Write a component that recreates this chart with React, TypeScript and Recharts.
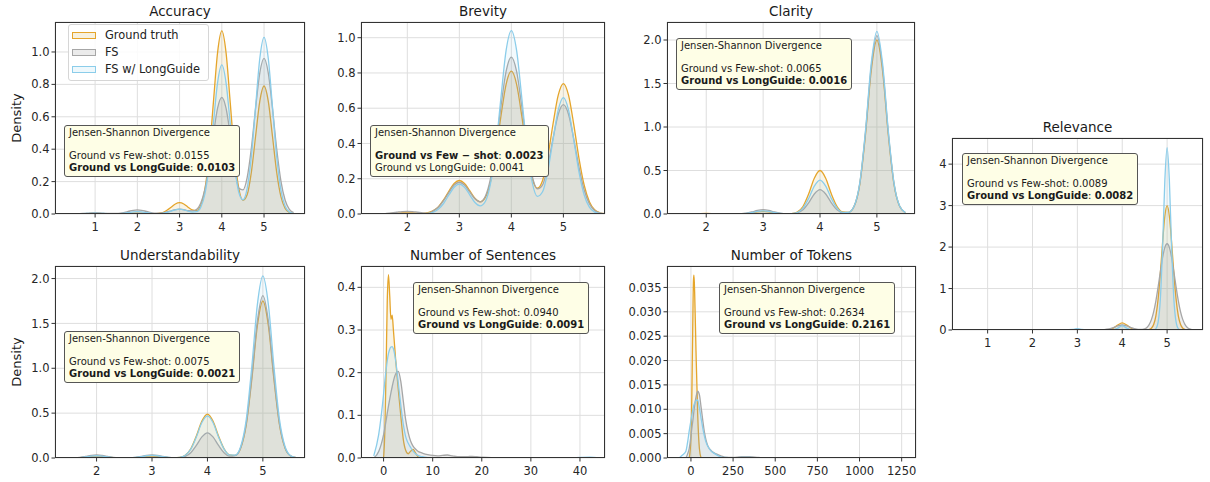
import React from "react";
import { AreaChart, Area, XAxis, YAxis, CartesianGrid } from "recharts";

// Accuracy
const ACC_X = [0.4, 0.5, 0.6, 0.7, 0.8, 0.9, 1.0, 1.1, 1.2, 1.3, 1.4, 1.5, 1.6, 1.7, 1.8, 1.9, 2.0, 2.1, 2.2, 2.3, 2.4, 2.5, 2.6, 2.7, 2.8, 2.9, 3.0, 3.1, 3.2, 3.3, 3.4, 3.5, 3.6, 3.7, 3.8, 3.9, 4.0, 4.1, 4.2, 4.3, 4.4, 4.5, 4.6, 4.7, 4.8, 4.9, 5.0, 5.1, 5.2, 5.3, 5.4, 5.5, 5.6, 5.7];
const ACC_GT = [0, 0, 0, 0.001, 0.002, 0.003, 0.003, 0.003, 0.002, 0.001, 0.001, 0.001, 0.002, 0.003, 0.004, 0.005, 0.005, 0.005, 0.004, 0.003, 0.002, 0.004, 0.009, 0.023, 0.042, 0.062, 0.07, 0.062, 0.042, 0.025, 0.021, 0.053, 0.153, 0.367, 0.686, 0.997, 1.13, 0.997, 0.686, 0.367, 0.162, 0.085, 0.119, 0.259, 0.48, 0.697, 0.79, 0.697, 0.48, 0.257, 0.107, 0.035, 0.009, 0.002];
const ACC_FS = [0, 0.001, 0.002, 0.003, 0.005, 0.007, 0.008, 0.007, 0.005, 0.003, 0.003, 0.003, 0.005, 0.01, 0.017, 0.023, 0.025, 0.023, 0.017, 0.01, 0.006, 0.005, 0.007, 0.013, 0.02, 0.027, 0.03, 0.027, 0.02, 0.019, 0.028, 0.067, 0.153, 0.301, 0.488, 0.653, 0.72, 0.653, 0.488, 0.303, 0.161, 0.149, 0.225, 0.407, 0.652, 0.871, 0.96, 0.871, 0.651, 0.401, 0.203, 0.085, 0.029, 0.008];
const ACC_LG = [0, 0, 0.001, 0.002, 0.003, 0.004, 0.005, 0.004, 0.003, 0.002, 0.001, 0.001, 0.002, 0.005, 0.009, 0.013, 0.015, 0.013, 0.009, 0.005, 0.002, 0.002, 0.004, 0.01, 0.018, 0.026, 0.03, 0.026, 0.018, 0.012, 0.014, 0.041, 0.124, 0.299, 0.558, 0.811, 0.92, 0.811, 0.558, 0.301, 0.136, 0.088, 0.157, 0.356, 0.662, 0.961, 1.09, 0.961, 0.662, 0.354, 0.147, 0.048, 0.012, 0.002];

// Brevity
const BRE_X = [1.3, 1.4, 1.5, 1.6, 1.7, 1.8, 1.9, 2.0, 2.1, 2.2, 2.3, 2.4, 2.5, 2.6, 2.7, 2.8, 2.9, 3.0, 3.1, 3.2, 3.3, 3.4, 3.5, 3.6, 3.7, 3.8, 3.9, 4.0, 4.1, 4.2, 4.3, 4.4, 4.5, 4.6, 4.7, 4.8, 4.9, 5.0, 5.1, 5.2, 5.3, 5.4, 5.5, 5.6, 5.7, 5.8];
const BRE_GT = [0, 0, 0.001, 0.001, 0.003, 0.004, 0.006, 0.006, 0.006, 0.005, 0.004, 0.008, 0.019, 0.042, 0.081, 0.13, 0.173, 0.19, 0.173, 0.132, 0.089, 0.069, 0.094, 0.184, 0.348, 0.555, 0.737, 0.81, 0.737, 0.557, 0.353, 0.202, 0.146, 0.19, 0.324, 0.509, 0.673, 0.74, 0.673, 0.507, 0.316, 0.163, 0.07, 0.024, 0.007, 0.002];
const BRE_FS = [0, 0.001, 0.001, 0.003, 0.006, 0.01, 0.014, 0.015, 0.014, 0.01, 0.006, 0.004, 0.018, 0.04, 0.077, 0.123, 0.164, 0.18, 0.164, 0.125, 0.086, 0.069, 0.101, 0.202, 0.382, 0.61, 0.81, 0.89, 0.81, 0.611, 0.386, 0.216, 0.142, 0.165, 0.274, 0.427, 0.564, 0.62, 0.564, 0.425, 0.265, 0.136, 0.058, 0.02, 0.006, 0.002];
const BRE_LG = [0, 0, 0, 0, 0, 0, 0, 0, 0, 0, 0.001, 0.003, 0.01, 0.028, 0.061, 0.108, 0.152, 0.17, 0.152, 0.109, 0.065, 0.046, 0.071, 0.173, 0.374, 0.66, 0.929, 1.04, 0.929, 0.661, 0.377, 0.181, 0.1, 0.126, 0.242, 0.419, 0.589, 0.66, 0.589, 0.419, 0.238, 0.108, 0.039, 0.011, 0.003, 0.001];

// Clarity
const CLA_X = [1.5, 1.6, 1.7, 1.8, 1.9, 2.0, 2.1, 2.2, 2.3, 2.4, 2.5, 2.6, 2.7, 2.8, 2.9, 3.0, 3.1, 3.2, 3.3, 3.4, 3.5, 3.6, 3.7, 3.8, 3.9, 4.0, 4.1, 4.2, 4.3, 4.4, 4.5, 4.6, 4.7, 4.8, 4.9, 5.0, 5.1, 5.2, 5.3, 5.4, 5.5];
const CLA_GT = [0, 0, 0.001, 0.003, 0.005, 0.006, 0.005, 0.003, 0.001, 0, 0, 0.001, 0.005, 0.014, 0.025, 0.03, 0.025, 0.014, 0.005, 0.002, 0.004, 0.022, 0.086, 0.229, 0.412, 0.5, 0.412, 0.229, 0.086, 0.024, 0.019, 0.089, 0.344, 0.916, 1.646, 2.0, 1.646, 0.916, 0.344, 0.088, 0.015];
const CLA_FS = [0, 0, 0.001, 0.002, 0.003, 0.004, 0.003, 0.002, 0.001, 0, 0, 0.002, 0.009, 0.023, 0.041, 0.05, 0.041, 0.023, 0.009, 0.003, 0.003, 0.012, 0.048, 0.128, 0.23, 0.28, 0.23, 0.128, 0.048, 0.014, 0.018, 0.09, 0.353, 0.939, 1.687, 2.05, 1.687, 0.939, 0.353, 0.09, 0.016];
const CLA_LG = [0, 0, 0.001, 0.002, 0.003, 0.004, 0.003, 0.002, 0.001, 0, 0, 0.002, 0.006, 0.016, 0.029, 0.035, 0.029, 0.016, 0.006, 0.002, 0.003, 0.017, 0.067, 0.179, 0.321, 0.39, 0.321, 0.179, 0.067, 0.019, 0.019, 0.092, 0.361, 0.962, 1.728, 2.1, 1.728, 0.962, 0.361, 0.092, 0.016];

// Relevance
const REL_X = [0.5, 0.7, 0.9, 1.0, 1.1, 1.3, 1.5, 1.7, 1.9, 2.0, 2.1, 2.3, 2.5, 2.7, 2.9, 3.0, 3.1, 3.3, 3.5, 3.6, 3.7, 3.8, 3.9, 4.0, 4.1, 4.2, 4.3, 4.4, 4.5, 4.55, 4.6, 4.65, 4.7, 4.75, 4.8, 4.85, 4.9, 4.95, 5.0, 5.05, 5.1, 5.15, 5.2, 5.25, 5.3, 5.35, 5.4, 5.45, 5.5, 5.55];
const REL_GT = [0.002, 0.005, 0.009, 0.01, 0.009, 0.004, 0.002, 0.004, 0.008, 0.01, 0.008, 0.003, 0.002, 0.003, 0.008, 0.01, 0.008, 0.003, 0.001, 0.002, 0.008, 0.042, 0.12, 0.17, 0.12, 0.042, 0.008, 0.001, 0.001, 0.003, 0.012, 0.042, 0.132, 0.342, 0.747, 1.374, 2.12, 2.75, 3.0, 2.75, 2.12, 1.374, 0.747, 0.342, 0.132, 0.042, 0.012, 0.003, 0.001, null];
const REL_FS = [0.001, 0.003, 0.005, 0.006, 0.005, 0.003, 0.003, 0.006, 0.01, 0.011, 0.01, 0.005, 0.002, 0.004, 0.01, 0.012, 0.01, 0.004, 0.002, 0.008, 0.025, 0.06, 0.101, 0.12, 0.101, 0.06, 0.025, 0.012, 0.029, 0.062, 0.131, 0.25, 0.439, 0.705, 1.04, 1.41, 1.749, 1.993, 2.08, 1.993, 1.749, 1.41, 1.04, 0.705, 0.439, 0.25, 0.131, 0.062, 0.027, 0.011];
const REL_LG = [0.001, 0.002, 0.004, 0.005, 0.004, 0.001, 0.001, 0.002, 0.006, 0.008, 0.006, 0.002, 0.001, 0.002, 0.014, 0.03, 0.014, 0.001, 0, 0, 0, 0.004, 0.046, 0.1, 0.046, 0.004, 0, 0, 0, 0, 0, 0, 0.004, 0.033, 0.194, 0.757, 2.015, 3.62, 4.4, 3.62, 2.015, 0.757, 0.194, 0.033, 0.004, 0, null, null, null, null];

// Understandability
const UND_X = [1.4, 1.5, 1.6, 1.7, 1.8, 1.9, 2.0, 2.1, 2.2, 2.3, 2.4, 2.5, 2.6, 2.7, 2.8, 2.9, 3.0, 3.1, 3.2, 3.3, 3.4, 3.5, 3.6, 3.7, 3.8, 3.9, 4.0, 4.1, 4.2, 4.3, 4.4, 4.5, 4.6, 4.7, 4.8, 4.9, 5.0, 5.1, 5.2, 5.3, 5.4, 5.5, 5.6];
const UND_GT = [0, 0, 0.001, 0.004, 0.01, 0.017, 0.02, 0.017, 0.01, 0.004, 0.001, 0.001, 0.001, 0.004, 0.01, 0.017, 0.02, 0.017, 0.01, 0.004, 0.002, 0.007, 0.031, 0.103, 0.245, 0.412, 0.49, 0.412, 0.245, 0.103, 0.035, 0.029, 0.111, 0.369, 0.875, 1.472, 1.75, 1.472, 0.875, 0.369, 0.11, 0.023, 0.004];
const UND_FS = [0, 0.001, 0.002, 0.007, 0.018, 0.029, 0.035, 0.029, 0.018, 0.007, 0.002, 0.001, 0.002, 0.007, 0.018, 0.029, 0.035, 0.029, 0.018, 0.007, 0.003, 0.004, 0.018, 0.059, 0.14, 0.235, 0.28, 0.235, 0.14, 0.059, 0.021, 0.027, 0.115, 0.382, 0.905, 1.522, 1.81, 1.522, 0.905, 0.382, 0.114, 0.024, 0.004];
const UND_LG = [0, 0, 0.002, 0.005, 0.013, 0.021, 0.025, 0.021, 0.013, 0.005, 0.002, 0.001, 0.002, 0.006, 0.015, 0.025, 0.03, 0.025, 0.015, 0.006, 0.003, 0.007, 0.03, 0.099, 0.235, 0.395, 0.47, 0.395, 0.235, 0.099, 0.034, 0.033, 0.129, 0.428, 1.015, 1.707, 2.03, 1.707, 1.015, 0.428, 0.128, 0.026, 0.004];

// Number of Sentences
const SEN_X = [-4, -3, -2, -1, 0, 0.25, 0.5, 0.75, 1, 1.25, 1.5, 1.75, 2, 2.5, 3, 3.5, 4, 4.5, 5, 5.5, 6, 6.5, 7, 7.5, 8, 9, 10, 11, 12, 13, 14, 15, 16, 17, 18, 19, 20, 22, 25, 30, 35, 38, 40, 42, 44];
const SEN_GT = [null, null, null, null, 0, 0.06, 0.2, 0.37, 0.43, 0.38, 0.325, 0.335, 0.3, 0.225, 0.16, 0.1, 0.045, 0.018, 0.01, 0.016, 0.02, 0.012, 0.003, 0, null, null, null, null, null, null, null, null, null, null, null, null, null, null, null, null, null, null, null, null, null];
const SEN_FS = [null, null, 0, 0.015, 0.055, 0.07, 0.087, 0.105, 0.122, 0.138, 0.153, 0.167, 0.18, 0.198, 0.203, 0.18, 0.135, 0.09, 0.06, 0.04, 0.028, 0.021, 0.016, 0.013, 0.011, 0.008, 0.006, 0.005, 0.006, 0.007, 0.005, 0.003, 0.003, 0.003, 0.004, 0.003, 0.002, 0.001, 0.001, 0.001, 0.0005, 0.0003, 0.0002, 0, null];
const SEN_LG = [null, null, 0.005, 0.055, 0.15, 0.18, 0.205, 0.228, 0.245, 0.255, 0.26, 0.261, 0.256, 0.225, 0.175, 0.125, 0.08, 0.05, 0.035, 0.025, 0.016, 0.01, 0.006, 0.004, 0.003, 0.001, 0.0005, 0.0002, 0.0001, 0.0001, 0, 0, 0, 0, 0, 0, 0, 0, 0, 0, 0, 0.0002, 0.0012, 0.002, 0];

// Number of Tokens
const TOK_X = [-70, -50, -30, -20, -10, 0, 5, 10, 15, 18, 22, 30, 40, 50, 60, 70, 80, 90, 100, 120, 140, 160, 180, 200, 250, 300, 350, 400, 450];
const TOK_GT = [null, null, null, null, 0, 0.004, 0.012, 0.025, 0.0365, 0.0375, 0.034, 0.022, 0.009, 0.002, 0, null, null, null, null, null, null, null, null, null, null, null, null, null, null];
const TOK_FS = [null, null, 0, 0.0008, 0.002, 0.0045, 0.006, 0.0073, 0.0088, 0.0097, 0.0108, 0.0125, 0.0137, 0.013, 0.0105, 0.0078, 0.0053, 0.0036, 0.0025, 0.0015, 0.001, 0.0007, 0.0004, 0.0002, 0.0001, 0.0003, 0.0003, 0.0001, 0];
const TOK_LG = [0, 0.0006, 0.0014, 0.0032, 0.0056, 0.0077, 0.0087, 0.0097, 0.0105, 0.0109, 0.0113, 0.0118, 0.0119, 0.0103, 0.0082, 0.0062, 0.0045, 0.0032, 0.0024, 0.0014, 0.0009, 0.0005, 0.0002, 0.0001, 0, 0.0001, 0.0001, 0, null];

const FONT = '"DejaVu Sans", Verdana, sans-serif';
const GT_COLOR = "#e5a52b";
const FS_COLOR = "#a6a6a6";
const LG_COLOR = "#8bcdea";

const ML = 50;
const MT = 6;
const MR = 6;
const MB = 26;

const rows = (xs: number[], gt: (number | null)[], fs: (number | null)[], lg: (number | null)[]) =>
  xs.map((x, i) => ({ x, gt: gt[i], fs: fs[i], lg: lg[i] }));

const f1 = (v: number) => v.toFixed(1);
const f0 = (v: number) => v.toFixed(0);
const f3 = (v: number) => v.toFixed(3);

type Note = { left: number; top: number; fs: string; lg: string; best: "fs" | "lg" };

type PanelCfg = {
  title: string;
  plot: [number, number, number, number];
  xDomain: [number, number];
  yDomain: [number, number];
  xTicks: number[];
  yTicks: number[];
  fmt: (v: number) => string;
  data: { x: number; gt: number | null; fs: number | null; lg: number | null }[];
  density?: boolean;
  legend?: boolean;
  note: Note;
};

const PANELS: PanelCfg[] = [
  {
    title: "Accuracy",
    plot: [55, 22, 305, 214],
    xDomain: [0.05, 5.97],
    yDomain: [0, 1.185],
    xTicks: [1, 2, 3, 4, 5],
    yTicks: [0, 0.2, 0.4, 0.6, 0.8, 1.0],
    fmt: f1,
    data: rows(ACC_X, ACC_GT, ACC_FS, ACC_LG),
    density: true,
    legend: true,
    note: { left: 64, top: 125, fs: "0.0155", lg: "0.0103", best: "lg" },
  },
  {
    title: "Brevity",
    plot: [361, 22, 605, 214],
    xDomain: [1.11, 5.8],
    yDomain: [0, 1.089],
    xTicks: [2, 3, 4, 5],
    yTicks: [0, 0.2, 0.4, 0.6, 0.8, 1.0],
    fmt: f1,
    data: rows(BRE_X, BRE_GT, BRE_FS, BRE_LG),
    note: { left: 370, top: 125, fs: "0.0023", lg: "0.0041", best: "fs" },
  },
  {
    title: "Clarity",
    plot: [667, 22, 915, 214],
    xDomain: [1.31, 5.67],
    yDomain: [0, 2.207],
    xTicks: [2, 3, 4, 5],
    yTicks: [0, 0.5, 1.0, 1.5, 2.0],
    fmt: f1,
    data: rows(CLA_X, CLA_GT, CLA_FS, CLA_LG),
    note: { left: 676, top: 38, fs: "0.0065", lg: "0.0016", best: "lg" },
  },
  {
    title: "Relevance",
    plot: [952, 138, 1203, 330],
    xDomain: [0.206, 5.8],
    yDomain: [0, 4.63],
    xTicks: [1, 2, 3, 4, 5],
    yTicks: [0, 1, 2, 3, 4],
    fmt: f0,
    data: rows(REL_X, REL_GT, REL_FS, REL_LG),
    note: { left: 962, top: 153, fs: "0.0089", lg: "0.0082", best: "lg" },
  },
  {
    title: "Understandability",
    plot: [55, 266, 305, 458],
    xDomain: [1.25, 5.76],
    yDomain: [0, 2.14],
    xTicks: [2, 3, 4, 5],
    yTicks: [0, 0.5, 1.0, 1.5, 2.0],
    fmt: f1,
    data: rows(UND_X, UND_GT, UND_FS, UND_LG),
    density: true,
    note: { left: 64, top: 331, fs: "0.0075", lg: "0.0021", best: "lg" },
  },
  {
    title: "Number of Sentences",
    plot: [361, 266, 605, 458],
    xDomain: [-4.6, 45.1],
    yDomain: [0, 0.45],
    xTicks: [0, 10, 20, 30, 40],
    yTicks: [0, 0.1, 0.2, 0.3, 0.4],
    fmt: f1,
    data: rows(SEN_X, SEN_GT, SEN_FS, SEN_LG),
    note: { left: 413, top: 282, fs: "0.0940", lg: "0.0091", best: "lg" },
  },
  {
    title: "Number of Tokens",
    plot: [667, 266, 916, 458],
    xDomain: [-142, 1335],
    yDomain: [0, 0.0394],
    xTicks: [0, 250, 500, 750, 1000, 1250],
    yTicks: [0, 0.005, 0.01, 0.015, 0.02, 0.025, 0.03, 0.035],
    fmt: f3,
    data: rows(TOK_X, TOK_GT, TOK_FS, TOK_LG),
    note: { left: 719, top: 282, fs: "0.2634", lg: "0.2161", best: "lg" },
  },
];

function NoteBox({ note }: { note: Note }) {
  return (
    <div
      style={{
        position: "absolute",
        left: note.left,
        top: note.top,
        padding: "1px 4px 3px 4px",
        background: "#fefee6",
        border: "1px solid #555",
        borderRadius: 3,
        fontFamily: FONT,
        fontSize: 10,
        lineHeight: "11.5px",
        color: "#1a1a1a",
        whiteSpace: "nowrap",
      }}
    >
      <div>Jensen-Shannon Divergence</div>
      <div>&nbsp;</div>
      {note.best === "fs" ? (
        <>
          <div>
            <b>Ground vs Few − shot</b>: <b>{note.fs}</b>
          </div>
          <div>Ground vs LongGuide: {note.lg}</div>
        </>
      ) : (
        <>
          <div>Ground vs Few-shot: {note.fs}</div>
          <div>
            <b>Ground vs LongGuide</b>: <b>{note.lg}</b>
          </div>
        </>
      )}
    </div>
  );
}

const LEGEND_ITEMS = [
  { label: "Ground truth", stroke: GT_COLOR, fill: "#f7f1df" },
  { label: "FS", stroke: FS_COLOR, fill: "#ebebeb" },
  { label: "FS w/ LongGuide", stroke: LG_COLOR, fill: "#eef8fc" },
];

function LegendBox() {
  return (
    <div
      style={{
        position: "absolute",
        left: 68,
        top: 24,
        width: 136,
        padding: "2px 0 2px 3px",
        background: "rgba(255,255,255,0.85)",
        border: "1px solid #d6d6d6",
        borderRadius: 3,
        fontFamily: FONT,
        fontSize: 11.4,
        lineHeight: "17px",
        color: "#222",
        whiteSpace: "nowrap",
      }}
    >
      {LEGEND_ITEMS.map((it) => (
        <div key={it.label} style={{ display: "flex", alignItems: "center" }}>
          <span
            style={{
              display: "inline-block",
              width: 24,
              height: 7,
              boxSizing: "border-box",
              border: `1.3px solid ${it.stroke}`,
              background: it.fill,
              marginRight: 9,
            }}
          />
          {it.label}
        </div>
      ))}
    </div>
  );
}

function Panel({ cfg }: { cfg: PanelCfg }) {
  const [l, t, r, b] = cfg.plot;
  const w = r - l;
  const h = b - t;
  const tickStyle = { fontSize: 11.5, fill: "#262626", fontFamily: FONT };
  return (
    <>
      <div
        style={{
          position: "absolute",
          left: l,
          width: w,
          top: t - 20,
          textAlign: "center",
          fontFamily: FONT,
          fontSize: 13.5,
          lineHeight: "18px",
          color: "#1a1a1a",
        }}
      >
        {cfg.title}
      </div>
      {cfg.density && (
        <div
          style={{
            position: "absolute",
            left: 17 - 40,
            top: (t + b) / 2 - 9,
            width: 80,
            textAlign: "center",
            transform: "rotate(-90deg)",
            fontFamily: FONT,
            fontSize: 13,
            lineHeight: "18px",
            color: "#1a1a1a",
          }}
        >
          Density
        </div>
      )}
      <div style={{ position: "absolute", left: l - ML, top: t - MT }}>
        <AreaChart
          width={w + ML + MR}
          height={h + MT + MB}
          data={cfg.data}
          margin={{ top: MT, right: MR, bottom: 0, left: 0 }}
        >
          <CartesianGrid stroke="#dedede" strokeWidth={1} />
          <XAxis
            dataKey="x"
            type="number"
            domain={cfg.xDomain}
            ticks={cfg.xTicks}
            allowDataOverflow
            interval={0}
            height={MB}
            axisLine={false}
            tickLine={{ stroke: "#333" }}
            tickSize={3.5}
            tickMargin={5}
            tick={tickStyle}
          />
          <YAxis
            type="number"
            domain={cfg.yDomain}
            ticks={cfg.yTicks}
            allowDataOverflow
            interval={0}
            width={ML}
            axisLine={false}
            tickLine={{ stroke: "#333" }}
            tickSize={3.5}
            tickMargin={2}
            tick={tickStyle}
            tickFormatter={cfg.fmt}
          />
          <Area
            type="monotone"
            dataKey="gt"
            stroke={GT_COLOR}
            strokeWidth={1.3}
            fill="#d9b45a"
            fillOpacity={0.15}
            dot={false}
            activeDot={false}
            isAnimationActive={false}
          />
          <Area
            type="monotone"
            dataKey="fs"
            stroke={FS_COLOR}
            strokeWidth={1.3}
            fill="#8f8f8f"
            fillOpacity={0.15}
            dot={false}
            activeDot={false}
            isAnimationActive={false}
          />
          <Area
            type="monotone"
            dataKey="lg"
            stroke={LG_COLOR}
            strokeWidth={1.3}
            fill="#87ceeb"
            fillOpacity={0.1}
            dot={false}
            activeDot={false}
            isAnimationActive={false}
          />
        </AreaChart>
      </div>
      <div
        style={{
          position: "absolute",
          left: l,
          top: t,
          width: w,
          height: h,
          boxSizing: "border-box",
          border: "1px solid #333",
          pointerEvents: "none",
        }}
      />
      <NoteBox note={cfg.note} />
      {cfg.legend && <LegendBox />}
    </>
  );
}

export default function App() {
  return (
    <div
      style={{
        position: "absolute",
        left: 0,
        top: 0,
        width: 1210,
        height: 482,
        background: "#fff",
        overflow: "hidden",
      }}
    >
      {PANELS.map((p) => (
        <Panel key={p.title} cfg={p} />
      ))}
    </div>
  );
}
